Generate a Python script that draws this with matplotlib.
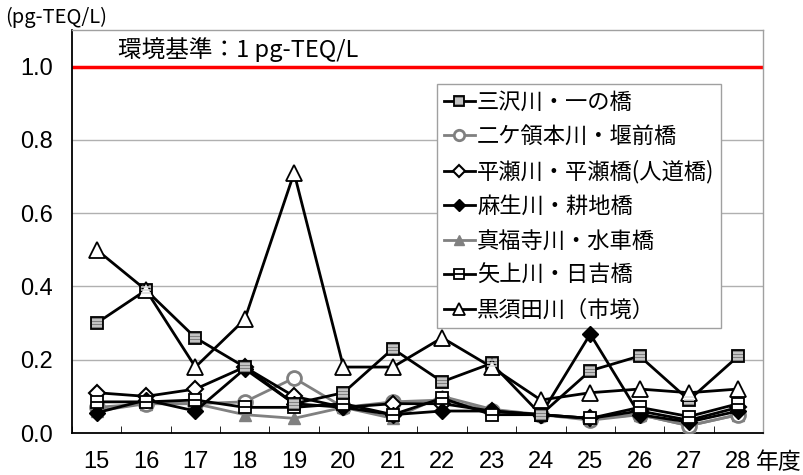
import matplotlib
matplotlib.use("Agg")
import matplotlib.pyplot as plt
from matplotlib.path import Path
from matplotlib.legend_handler import HandlerTuple
import numpy as np

plt.rcParams['font.family'] = ['Noto Sans CJK JP', 'DejaVu Sans']
NUMFONT = ['Liberation Sans Narrow', 'Liberation Sans', 'DejaVu Sans']

years = ["15", "16", "17", "18", "19", "20", "21", "22", "23", "24", "25", "26", "27", "28"]

misawa   = [0.30, 0.39, 0.26, 0.18, 0.08, 0.11, 0.23, 0.14, 0.19, 0.05, 0.17, 0.21, 0.09, 0.21]
nikaryo  = [0.07, 0.08, 0.08, 0.085, 0.15, 0.07, 0.085, 0.09, 0.06, 0.05, 0.035, 0.05, 0.02, 0.05]
hirase   = [0.11, 0.10, 0.12, 0.18, 0.10, 0.07, 0.08, 0.08, 0.06, 0.05, 0.04, 0.06, 0.035, 0.07]
asao     = [0.055, 0.09, 0.06, 0.175, 0.08, 0.07, 0.05, 0.06, 0.06, 0.05, 0.27, 0.05, 0.03, 0.06]
shinpuku = [0.06, 0.08, 0.08, 0.05, 0.04, 0.07, 0.04, 0.10, 0.065, 0.05, 0.04, 0.05, 0.02, 0.05]
yagami   = [0.085, 0.085, 0.09, 0.07, 0.07, 0.08, 0.05, 0.095, 0.05, 0.05, 0.04, 0.07, 0.045, 0.08]
kurosuda = [0.50, 0.39, 0.18, 0.31, 0.71, 0.18, 0.18, 0.26, 0.18, 0.09, 0.11, 0.12, 0.11, 0.12]

labels = ["三沢川・一の橋", "二ケ領本川・堰前橋", "平瀬川・平瀬橋(人道橋)", "麻生川・耕地橋",
          "真福寺川・水車橋", "矢上川・日吉橋", "黒須田川（市境）"]
yticks = [0.0, 0.2, 0.4, 0.6, 0.8, 1.0]
ytick_labels = ["0.0", "0.2", "0.4", "0.6", "0.8", "1.0"]
standard = 1.0

fig = plt.figure(figsize=(8.04, 4.75), dpi=100)
ax = fig.add_axes([72/804, 1-433/475, (763-72)/804, (433-30)/475])

x = np.arange(len(years))
gray = "#808080"

stripe = Path([(-1, -0.5), (1, -0.5), (-1, 0), (1, 0), (-1, 0.5), (1, 0.5)],
              [Path.MOVETO, Path.LINETO, Path.MOVETO, Path.LINETO, Path.MOVETO, Path.LINETO])

lw = 2
h = []
l1, = ax.plot(x, misawa, color='black', lw=lw, marker='s', ms=9, mfc='#808080', mec='black', mew=1.3, zorder=6)
l1b, = ax.plot(x, misawa, ls='none', marker=stripe, ms=7.5, mec='#d8d8d8', mew=1.1, zorder=7)
h.append((l1, l1b))
l2, = ax.plot(x, nikaryo, color=gray, lw=lw, marker='o', ms=10, mfc='white', mec=gray, mew=2, zorder=5)
h.append(l2)
l3, = ax.plot(x, hirase, color='black', lw=lw, marker='D', ms=8.5, mfc='white', mec='black', mew=1.5, zorder=5)
h.append(l3)
l4, = ax.plot(x, asao, color='black', lw=lw, marker='D', ms=8.5, mfc='black', mec='black', zorder=5)
h.append(l4)
l5, = ax.plot(x, shinpuku, color=gray, lw=lw, marker='^', ms=9, mfc=gray, mec=gray, zorder=4)
h.append(l5)
l6, = ax.plot(x, yagami, color='black', lw=lw, marker='s', ms=9, mfc='white', mec='black', mew=1.3, zorder=5)
l6b, = ax.plot(x, yagami, ls='none', marker='_', ms=9, mec='black', mew=1.3, zorder=5)
h.append((l6, l6b))
l7, = ax.plot(x, kurosuda, color='black', lw=lw, marker='^', ms=11.5, mfc='white', mec='black', mew=1.3, zorder=6)
h.append(l7)

ax.set_xlim(-0.5, len(years) - 0.5)
ax.set_ylim(0, 1.1)
ax.set_yticks(yticks)
ax.set_yticklabels(ytick_labels, fontsize=17, family=NUMFONT)
ax.set_xticks(x)
ax.set_xticklabels(years, fontsize=17, family=NUMFONT)
ax.set_xticks(np.arange(-0.5, len(years)), minor=True)
ax.tick_params(axis='x', which='major', length=0, pad=13)
ax.tick_params(axis='x', which='minor', direction='in', length=5, color='black')
ax.tick_params(axis='y', length=0, pad=14)

for v in yticks[1:-1]:
    ax.axhline(v, color='#b0b0b0', lw=1, zorder=1)
ax.axhline(standard, color='#ff0000', lw=2.5, zorder=2)

for s in ['top', 'right']:
    ax.spines[s].set_color('#a0a0a0')
    ax.spines[s].set_linewidth(1)
for s in ['left', 'bottom']:
    ax.spines[s].set_color('black')
    ax.spines[s].set_linewidth(1.3)

ax.annotate("年度", xy=(len(years) - 1, 0), xycoords=('data', 'axes fraction'),
            xytext=(13, -21), textcoords='offset points', fontsize=16.5,
            ha='left', va='center', annotation_clip=False)
fig.text(5/804, 1-17/475, "(pg-TEQ/L)", fontsize=14.5, ha='left', va='center')
ax.annotate("環境基準：1 pg-TEQ/L", xy=(118/804, 1-50/475), xycoords='figure fraction',
            fontsize=17, ha='left', va='center')

leg = ax.legend(h, labels, loc='upper left', bbox_to_anchor=(437/804, 1-84/475),
                bbox_transform=fig.transFigure, fontsize=16, frameon=True, fancybox=False,
                edgecolor='#a0a0a0', borderaxespad=0, handlelength=1.4, handletextpad=0.1,
                labelspacing=0.52, borderpad=0.3, framealpha=1, markerscale=0.75,
                handler_map={tuple: HandlerTuple(ndivide=1)})
leg.get_frame().set_linewidth(1)
leg.set_zorder(3)

fig.savefig("out.png", dpi=100)
